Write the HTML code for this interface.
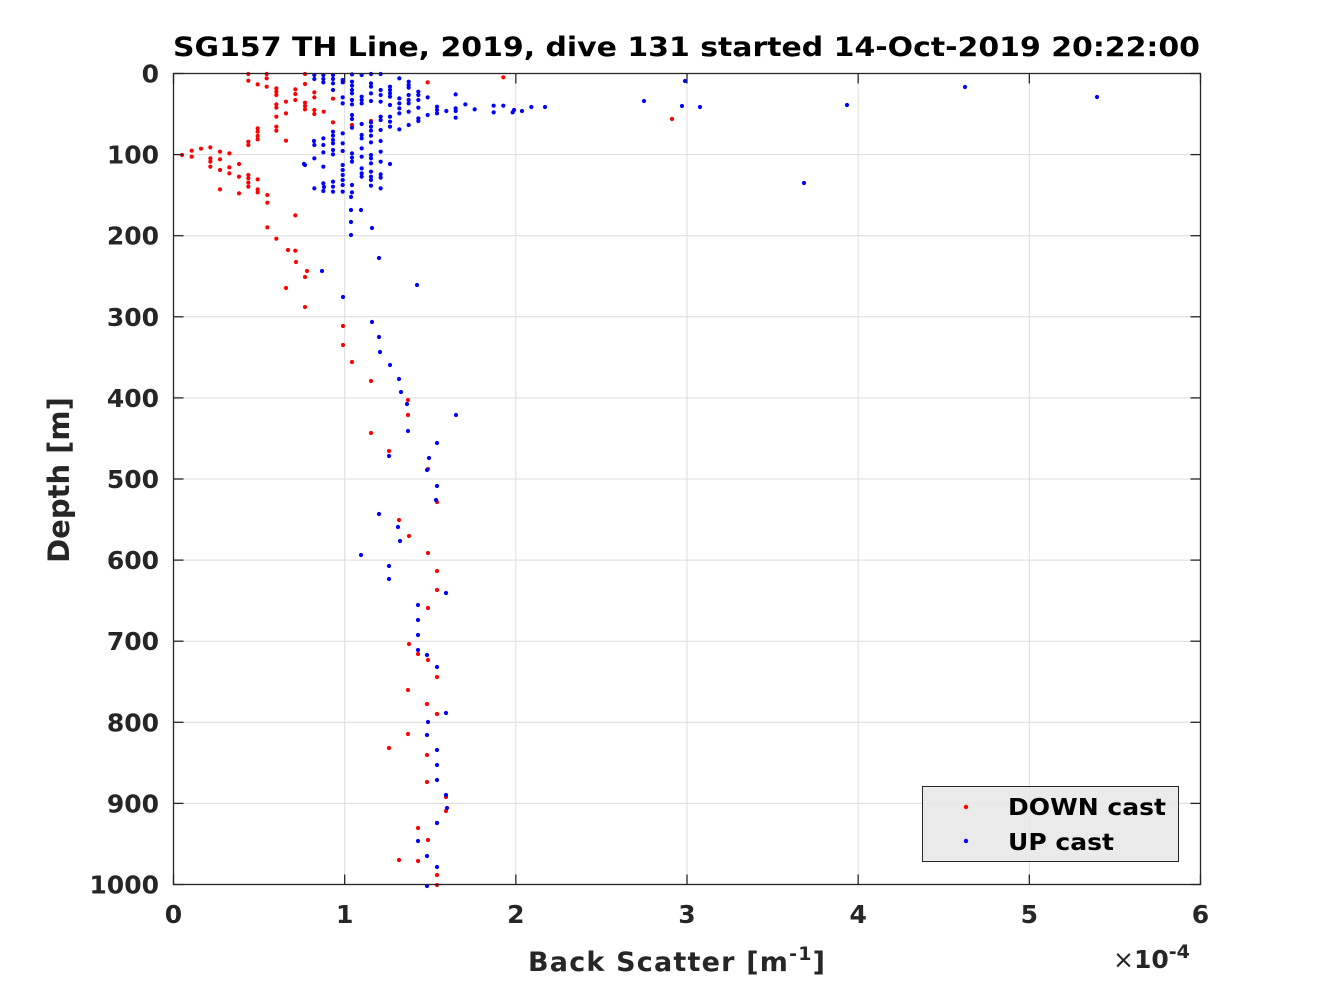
<!DOCTYPE html>
<html><head><meta charset="utf-8"><style>
html,body{margin:0;padding:0;background:#fff;}
svg{display:block;font-family:"DejaVu Sans","Liberation Sans",sans-serif;font-weight:bold;}
</style></head><body>
<svg id="s" width="1328" height="996" viewBox="0 0 1328 996" xmlns="http://www.w3.org/2000/svg">
<rect width="1328" height="996" fill="#fff"/>
<g id="grid" stroke="#dcdcdc" stroke-width="1"></g>
<g id="dots"></g>
<rect x="922.5" y="786.5" width="256" height="75" fill="#e6e6e6" fill-opacity="0.85" stroke="#262626" stroke-width="1"/>
<circle cx="966" cy="807" r="2.2" fill="#f00"/>
<circle cx="966" cy="841" r="2.2" fill="#00f"/>
<text x="1008" y="815" font-size="23" fill="#000" textLength="158" lengthAdjust="spacingAndGlyphs">DOWN cast</text>
<text x="1008" y="850" font-size="23" fill="#000" textLength="106" lengthAdjust="spacingAndGlyphs">UP cast</text>
<rect x="173.5" y="73.5" width="1027" height="811" fill="none" stroke="#262626" stroke-width="1.3"/>
<g id="ticks" stroke="#262626" stroke-width="1.3"></g>
<g id="labels" fill="#262626" font-size="25"></g>
<text x="173" y="56" font-size="27" fill="#000" textLength="1027" lengthAdjust="spacingAndGlyphs">SG157 TH Line, 2019, dive 131 started 14-Oct-2019 20:22:00</text>
<text x="528" y="971" font-size="27" fill="#262626" letter-spacing="1.2">Back Scatter [m<tspan dy="-11" font-size="19">-1</tspan><tspan dy="11">]</tspan></text>
<text transform="translate(69,480) rotate(-90)" font-size="29" text-anchor="middle" fill="#262626">Depth [m]</text>
<text x="1113" y="968" font-size="25" fill="#262626"><tspan font-weight="normal">×</tspan>10<tspan dy="-10" font-size="19">-4</tspan></text>
</svg>
<script>
var NS="http://www.w3.org/2000/svg";
function el(p,t,a,txt){var e=document.createElementNS(NS,t);for(var k in a)e.setAttribute(k,a[k]);if(txt!==undefined)e.textContent=txt;document.getElementById(p).appendChild(e);}
var X0=173.5,X1=1200.5,Y0=73.5,Y1=884.5;
for(var i=0;i<=6;i++){var x=X0+(X1-X0)*i/6;
 if(i>0&&i<6)el("grid","line",{x1:x,y1:Y0,x2:x,y2:Y1});
 el("ticks","line",{x1:x,y1:Y1,x2:x,y2:Y1-10});el("ticks","line",{x1:x,y1:Y0,x2:x,y2:Y0+10});
 el("labels","text",{x:x,y:923,"text-anchor":"middle"},""+i);}
for(var i=0;i<=10;i++){var y=Y0+(Y1-Y0)*i/10;
 if(i>0&&i<10)el("grid","line",{x1:X0,y1:y,x2:X1,y2:y});
 el("ticks","line",{x1:X0,y1:y,x2:X0+10,y2:y});el("ticks","line",{x1:X1,y1:y,x2:X1-10,y2:y});
 el("labels","text",{x:159,y:y+9,"text-anchor":"end"},""+(i*100));}
function dot(x,y,c){el("dots","circle",{cx:x,cy:y,r:2.1,fill:c});}
var R=[[265,42],[265,62],[293,73],[320,42],[320,55],[320,80],[349,85],[349,95],[349,105],[349,133],[349,143],[349,170],[349,200],[349,212],[378,125],[378,160],[378,242],[406,88],[406,102],[406,120],[406,466],[435,42],[435,72],[435,128],[435,138],[435,148],[463,97],[463,112],[463,150],[463,162],[491,155],[519,116],[519,187],[576,195],[633,183],[803,67],[1030,52],
[293,205],[293,215],[293,228],[293,238],[265,245],[265,255],[66,285],[95,272],[95,290],[123,266],[151,262],[151,295],[151,305],[151,320],[180,275],[180,298],[180,330],[180,388],[208,280],[208,322],[208,340],[237,312],[237,350],[237,400],[265,345],[265,355],[265,368],[265,380],[293,358],[293,388],[293,397],[322,405],[322,428],[322,502],[349,536],[406,572]];
R.forEach(function(p){dot(160+p[0]/3,60+p[1]/3,"#f00");});
var R2=[[672,119],[307,271],[286,288],[305,307],[343,326],[343,345],[352,362],[371,381],[408,400],[408,415],[371,433],[389,451],[428,469],[437,502],[399,520],[409,536],[428,553],[437,571],[437,590],[428,608],[409,644],[418,654],[428,660],[437,677],[408,690],[427,704],[437,714],[408,734],[389,748],[427,755],[427,782],[446,797],[446,811],[437,823],[428,840],[418,861],[399,860],[437,875],[437,885],[418,828],[305,277],[296,262],[288,250]];
R2.forEach(function(p){dot(p[0],p[1],"#f00");});
var B={43:[30,42,240,280,370],70:[30,42,52,220,240,262,305,355,378],99:[30,42,55,75,200,212,225,235,255,268,350,365,380],128:[45,52,97,115,205,235,258,300,315,330,345,360,380],156:[28,50,62,75,85,105,118,150,162,188,265,278,290,360,382],185:[30,95,105,115,177,210,220,250,275,310,325,335],213:[27,55,65,85,108,172,185,197,212,232,270,280,295,320,335,345,362],242:[27,75,90,110,155,165,195,228,260,290,328,338,370],270:[65,75,85,95,120,155,170,185,297],298:[40,100,115,130,145,193],326:[50,60,68,90,105,115,140,180],355:[80,90,105,128,160,168],383:[97,150],411:[125,135,145],439:[138],467:[88,130,138,158],496:[118],524:[133],581:[122,142],610:[122],638:[142],666:[138],694:[126],15:[300]};
for(var k in B)B[k].forEach(function(zy){dot(300+k/3,65+zy/3,"#00f");});
var B2=[[685,81],[644,101],[682,106],[700,107],[847,105],[965,87],[1097,97],[804,183],[545,107],[514,110],[351,197],[351,210],[351,222],[351,235],[361,210],[372,228],[379,258],[322,271],[417,285],[343,297],[372,322],[379,337],[380,352],[390,365],[399,379],[401,392],[407,404],[408,431],[456,415],[437,443],[429,458],[389,456],[427,470],[437,486],[436,500],[379,514],[398,527],[400,541],[361,555],[389,566],[389,579],[446,593],[418,605],[418,620],[418,635],[418,650],[427,655],[437,667],[446,713],[428,722],[427,735],[437,750],[437,765],[437,780],[446,795],[447,808],[437,823],[418,841],[427,856],[437,867],[427,886],[304,164],[314,141],[324,187]];
B2.forEach(function(p){dot(p[0],p[1],"#00f");});
</script>
</body></html>
